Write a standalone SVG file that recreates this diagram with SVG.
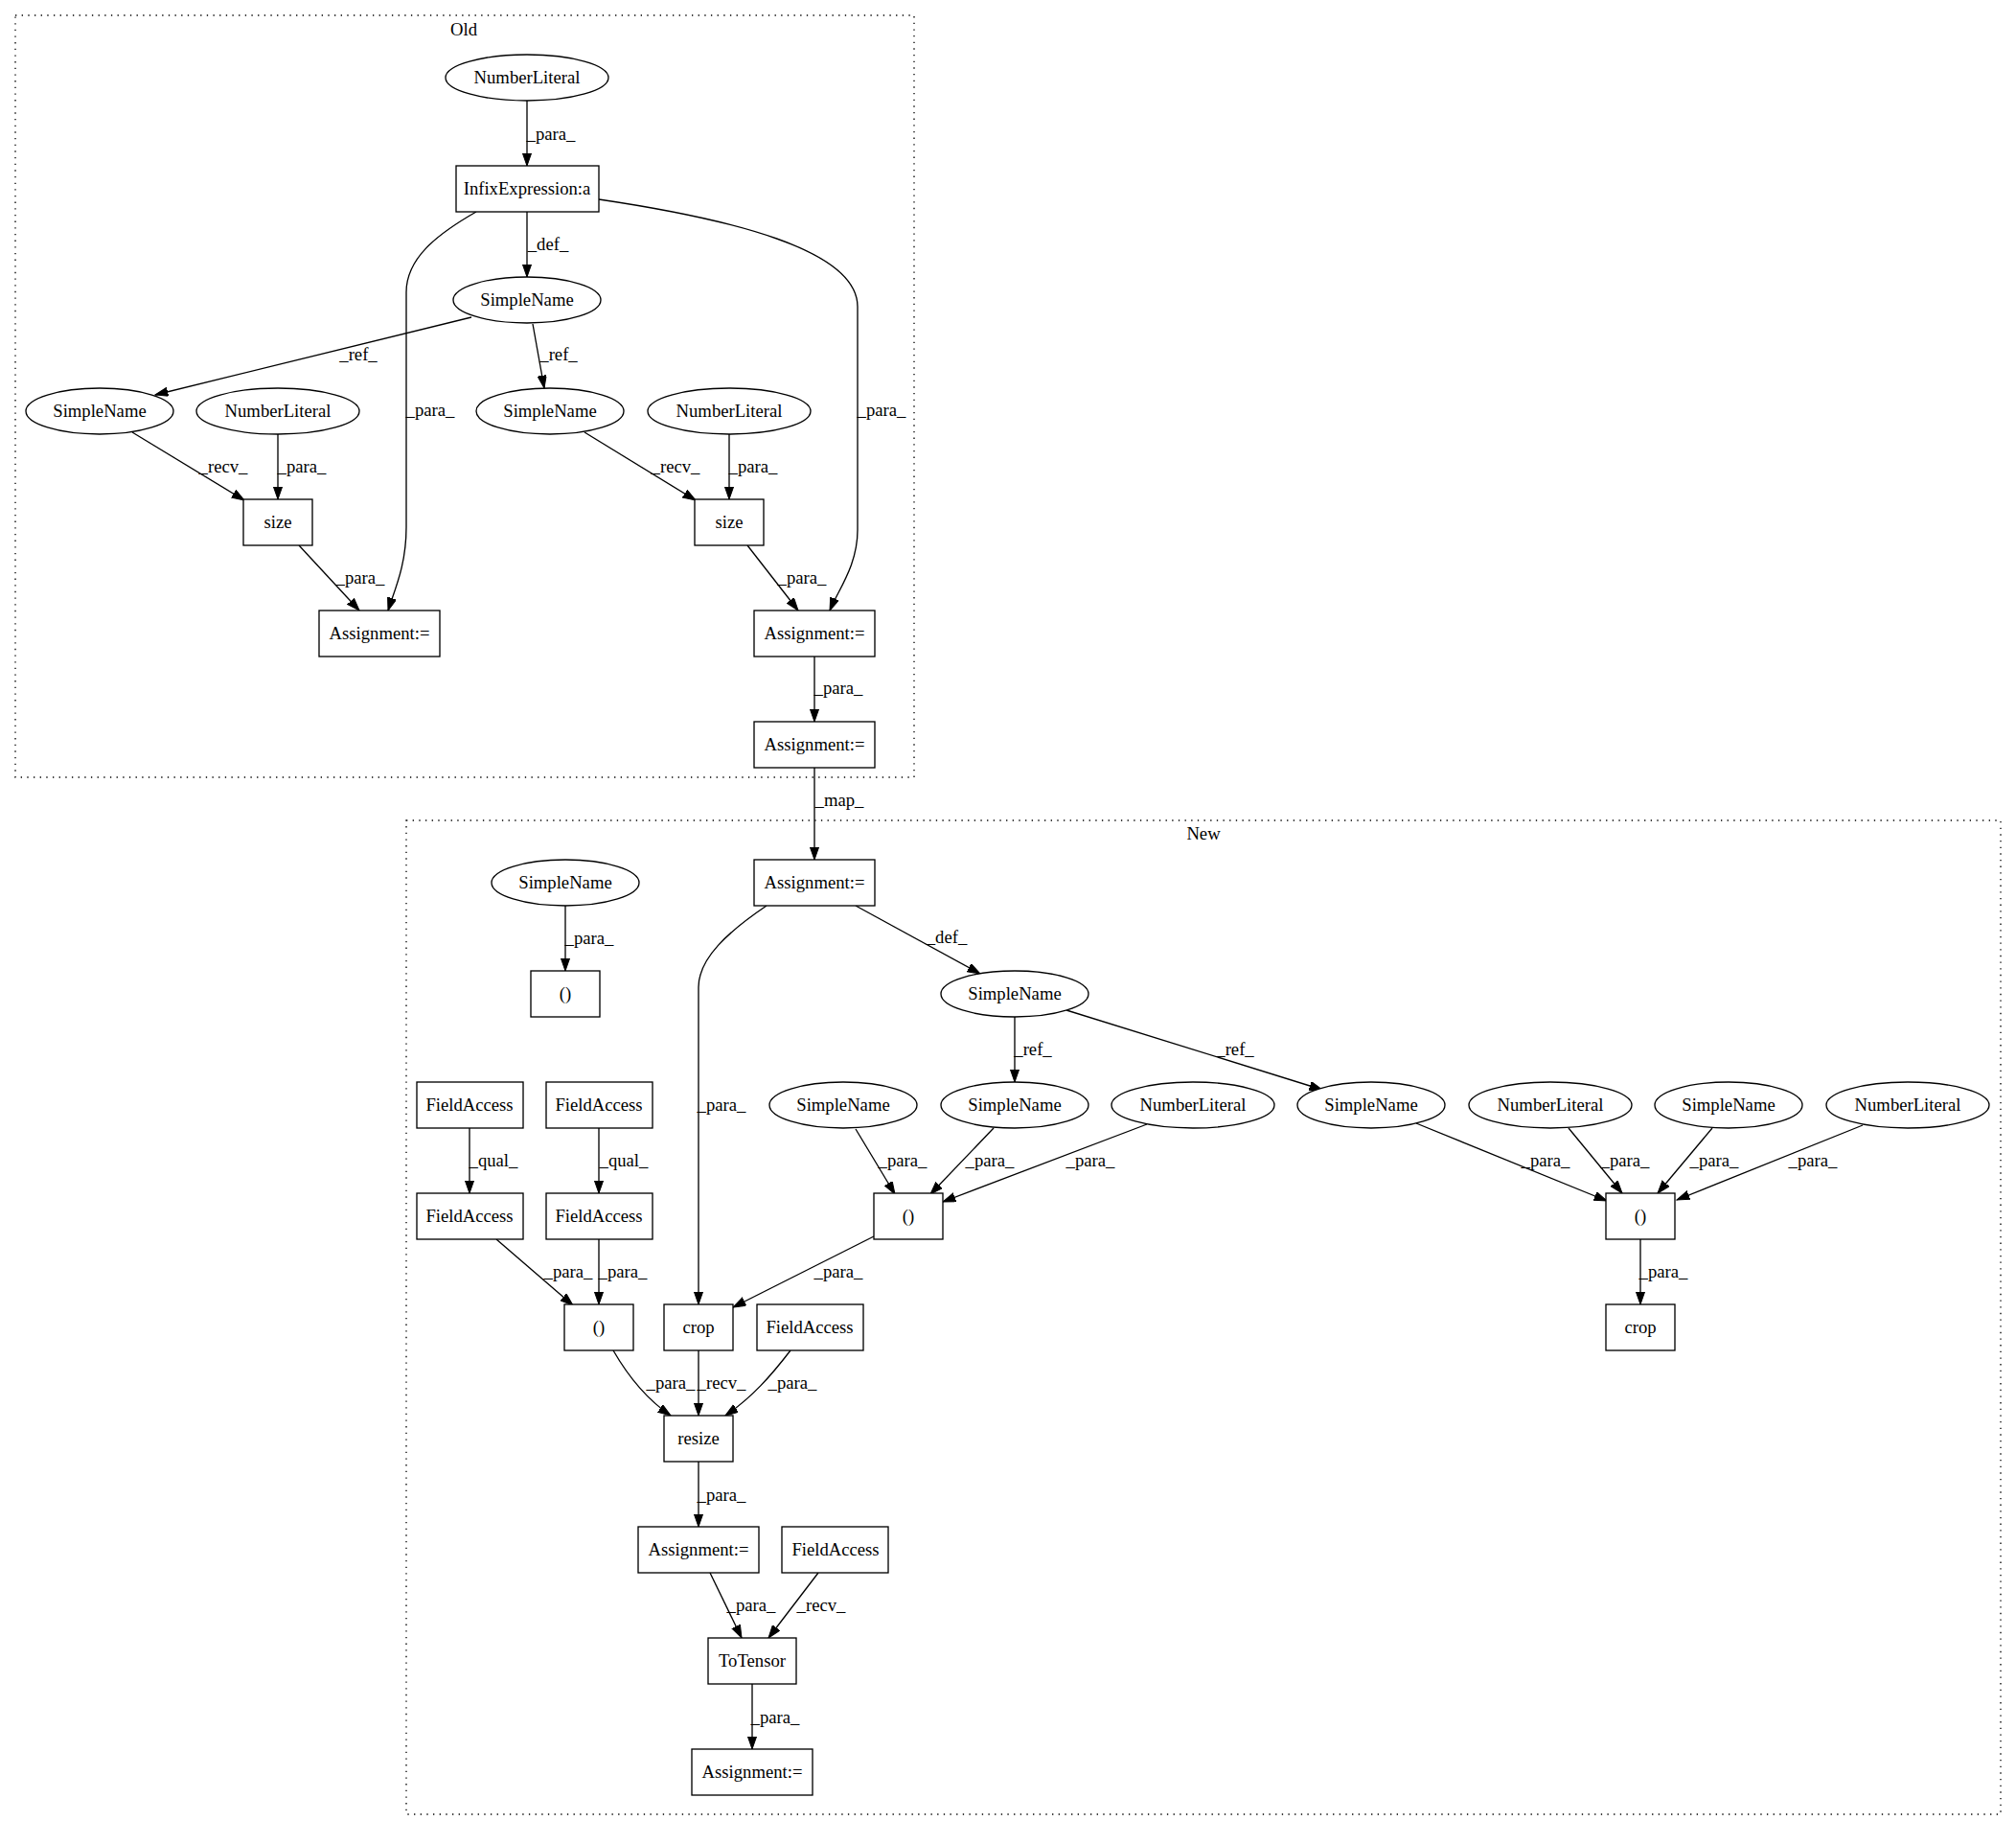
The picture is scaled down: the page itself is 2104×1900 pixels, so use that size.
<svg xmlns="http://www.w3.org/2000/svg" width="2104" height="1900" viewBox="0 0 2104 1900">
<defs>
<style>
text{font-family:"Liberation Serif","Times New Roman","DejaVu Serif",serif;font-size:18.67px;fill:#000;text-anchor:middle}
.n{fill:#fff;stroke:#000;stroke-width:1.33}
.e{fill:none;stroke:#000;stroke-width:1.33;marker-end:url(#ah)}
.c{fill:none;stroke:#000;stroke-width:1.33;stroke-dasharray:1.33,5.33}
</style>
<marker id="ah" markerUnits="userSpaceOnUse" markerWidth="14" markerHeight="10" refX="13.33" refY="4.67" orient="auto">
<path d="M0,0 L13.33,4.67 L0,9.33 z" fill="#000" stroke="#000" stroke-width="1"/>
</marker>
</defs>
<rect width="2104" height="1900" fill="#fff"/>
<g id="clusters" font-family="Liberation Serif, serif">
<rect class="c" x="16" y="16" width="938" height="795"/>
<text x="484" y="37">Old</text>
<rect class="c" x="424" y="856" width="1664" height="1037"/>
<text x="1256" y="876">New</text>
</g>
<g id="connectors" font-family="Liberation Serif, serif">
<path class="e" d="M550,105 L550,173"/><text x="575" y="146">_para_</text>
<path class="e" d="M550,221 L550,289"/><text x="572" y="261">_def_</text>
<path class="e" d="M497,221 C455,245 424,270 424,305 L424,550 C424,590 412,615 405,637"/><text x="449" y="434">_para_</text>
<path class="e" d="M625,208 C760,228 895,260 895,320 L895,553 C895,590 875,615 866,637"/><text x="920" y="434">_para_</text>
<path class="e" d="M492,331 L162,412"/><text x="374" y="376">_ref_</text>
<path class="e" d="M556,338 L568,405"/><text x="583" y="376">_ref_</text>
<path class="e" d="M138,451 L255,522"/><text x="233" y="493">_recv_</text>
<path class="e" d="M290,453 L290,521"/><text x="315" y="493">_para_</text>
<path class="e" d="M610,451 L726,522"/><text x="705" y="493">_recv_</text>
<path class="e" d="M761,453 L761,521"/><text x="786" y="493">_para_</text>
<path class="e" d="M312,569 L375,637"/><text x="376" y="609">_para_</text>
<path class="e" d="M780,569 L833,637"/><text x="837" y="609">_para_</text>
<path class="e" d="M850,685 L850,753"/><text x="875" y="724">_para_</text>
<path class="e" d="M850,801 L850,897"/><text x="876" y="841">_map_</text>
<path class="e" d="M590,945 L590,1013"/><text x="615" y="985">_para_</text>
<path class="e" d="M893,945 L1023,1016"/><text x="988" y="984">_def_</text>
<path class="e" d="M800,945 C760,972 729,1000 729,1030 L729,1361"/><text x="753" y="1159">_para_</text>
<path class="e" d="M1059,1061 L1059,1129"/><text x="1078" y="1101">_ref_</text>
<path class="e" d="M1113,1054 L1380,1137"/><text x="1289" y="1101">_ref_</text>
<path class="e" d="M490,1177 L490,1245"/><text x="515" y="1217">_qual_</text>
<path class="e" d="M625,1177 L625,1245"/><text x="651" y="1217">_qual_</text>
<path class="e" d="M893,1178 L934,1246"/><text x="942" y="1217">_para_</text>
<path class="e" d="M1037,1177 L971,1246"/><text x="1033" y="1217">_para_</text>
<path class="e" d="M1197,1173 L984,1254"/><text x="1138" y="1217">_para_</text>
<path class="e" d="M912,1290 L765,1364"/><text x="875" y="1333">_para_</text>
<path class="e" d="M518,1293 L598,1362"/><text x="593" y="1333">_para_</text>
<path class="e" d="M625,1293 L625,1361"/><text x="650" y="1333">_para_</text>
<path class="e" d="M1478,1172 L1677,1253"/><text x="1613" y="1217">_para_</text>
<path class="e" d="M1637,1177 L1693,1245"/><text x="1696" y="1217">_para_</text>
<path class="e" d="M1787,1177 L1730,1245"/><text x="1789" y="1217">_para_</text>
<path class="e" d="M1944,1174 L1750,1252"/><text x="1892" y="1217">_para_</text>
<path class="e" d="M1712,1293 L1712,1361"/><text x="1736" y="1333">_para_</text>
<path class="e" d="M640,1409 C655,1435 675,1460 700,1477"/><text x="700" y="1449">_para_</text>
<path class="e" d="M729,1409 L729,1477"/><text x="753" y="1449">_recv_</text>
<path class="e" d="M825,1409 C805,1435 785,1458 757,1477"/><text x="827" y="1449">_para_</text>
<path class="e" d="M729,1525 L729,1593"/><text x="753" y="1566">_para_</text>
<path class="e" d="M741,1641 L774,1709"/><text x="784" y="1681">_para_</text>
<path class="e" d="M854,1641 L802,1709"/><text x="857" y="1681">_recv_</text>
<path class="e" d="M785,1757 L785,1825"/><text x="809" y="1798">_para_</text>
</g>
<g id="old_numlit_top"><ellipse class="n" cx="550" cy="81" rx="85" ry="24"/><text x="550" y="87">NumberLiteral</text></g>
<g id="old_infix"><rect class="n" x="476" y="173" width="149" height="48"/><text x="550" y="203">InfixExpression:a</text></g>
<g id="old_simplename_def"><ellipse class="n" cx="550" cy="313" rx="77" ry="24"/><text x="550" y="319">SimpleName</text></g>
<g id="old_simplename_l"><ellipse class="n" cx="104" cy="429" rx="77" ry="24"/><text x="104" y="435">SimpleName</text></g>
<g id="old_numlit_l"><ellipse class="n" cx="290" cy="429" rx="85" ry="24"/><text x="290" y="435">NumberLiteral</text></g>
<g id="old_simplename_r"><ellipse class="n" cx="574" cy="429" rx="77" ry="24"/><text x="574" y="435">SimpleName</text></g>
<g id="old_numlit_r"><ellipse class="n" cx="761" cy="429" rx="85" ry="24"/><text x="761" y="435">NumberLiteral</text></g>
<g id="old_size_l"><rect class="n" x="254" y="521" width="72" height="48"/><text x="290" y="551">size</text></g>
<g id="old_size_r"><rect class="n" x="725" y="521" width="72" height="48"/><text x="761" y="551">size</text></g>
<g id="old_assign_l"><rect class="n" x="333" y="637" width="126" height="48"/><text x="396" y="667">Assignment:=</text></g>
<g id="old_assign_r"><rect class="n" x="787" y="637" width="126" height="48"/><text x="850" y="667">Assignment:=</text></g>
<g id="old_assign_b"><rect class="n" x="787" y="753" width="126" height="48"/><text x="850" y="783">Assignment:=</text></g>
<g id="new_assign_top"><rect class="n" x="787" y="897" width="126" height="48"/><text x="850" y="927">Assignment:=</text></g>
<g id="new_simplename_tl"><ellipse class="n" cx="590" cy="921" rx="77" ry="24"/><text x="590" y="927">SimpleName</text></g>
<g id="new_paren_tl"><rect class="n" x="554" y="1013" width="72" height="48"/><text x="590" y="1043">()</text></g>
<g id="new_simplename_def"><ellipse class="n" cx="1059" cy="1037" rx="77" ry="24"/><text x="1059" y="1043">SimpleName</text></g>
<g id="new_fa1"><rect class="n" x="435" y="1129" width="111" height="48"/><text x="490" y="1159">FieldAccess</text></g>
<g id="new_fa2"><rect class="n" x="570" y="1129" width="111" height="48"/><text x="625" y="1159">FieldAccess</text></g>
<g id="new_sn1"><ellipse class="n" cx="880" cy="1153" rx="77" ry="24"/><text x="880" y="1159">SimpleName</text></g>
<g id="new_sn2"><ellipse class="n" cx="1059" cy="1153" rx="77" ry="24"/><text x="1059" y="1159">SimpleName</text></g>
<g id="new_nl1"><ellipse class="n" cx="1245" cy="1153" rx="85" ry="24"/><text x="1245" y="1159">NumberLiteral</text></g>
<g id="new_sn3"><ellipse class="n" cx="1431" cy="1153" rx="77" ry="24"/><text x="1431" y="1159">SimpleName</text></g>
<g id="new_nl2"><ellipse class="n" cx="1618" cy="1153" rx="85" ry="24"/><text x="1618" y="1159">NumberLiteral</text></g>
<g id="new_sn4"><ellipse class="n" cx="1804" cy="1153" rx="77" ry="24"/><text x="1804" y="1159">SimpleName</text></g>
<g id="new_nl3"><ellipse class="n" cx="1991" cy="1153" rx="85" ry="24"/><text x="1991" y="1159">NumberLiteral</text></g>
<g id="new_fa3"><rect class="n" x="435" y="1245" width="111" height="48"/><text x="490" y="1275">FieldAccess</text></g>
<g id="new_fa4"><rect class="n" x="570" y="1245" width="111" height="48"/><text x="625" y="1275">FieldAccess</text></g>
<g id="new_paren_mid"><rect class="n" x="912" y="1245" width="72" height="48"/><text x="948" y="1275">()</text></g>
<g id="new_paren_r"><rect class="n" x="1676" y="1245" width="72" height="48"/><text x="1712" y="1275">()</text></g>
<g id="new_paren_l"><rect class="n" x="589" y="1361" width="72" height="48"/><text x="625" y="1391">()</text></g>
<g id="new_crop_l"><rect class="n" x="693" y="1361" width="72" height="48"/><text x="729" y="1391">crop</text></g>
<g id="new_fa5"><rect class="n" x="790" y="1361" width="111" height="48"/><text x="845" y="1391">FieldAccess</text></g>
<g id="new_crop_r"><rect class="n" x="1676" y="1361" width="72" height="48"/><text x="1712" y="1391">crop</text></g>
<g id="new_resize"><rect class="n" x="693" y="1477" width="72" height="48"/><text x="729" y="1507">resize</text></g>
<g id="new_assign_mid"><rect class="n" x="666" y="1593" width="126" height="48"/><text x="729" y="1623">Assignment:=</text></g>
<g id="new_fa6"><rect class="n" x="816" y="1593" width="111" height="48"/><text x="872" y="1623">FieldAccess</text></g>
<g id="new_totensor"><rect class="n" x="739" y="1709" width="92" height="48"/><text x="785" y="1739">ToTensor</text></g>
<g id="new_assign_bot"><rect class="n" x="722" y="1825" width="126" height="48"/><text x="785" y="1855">Assignment:=</text></g>
</svg>
